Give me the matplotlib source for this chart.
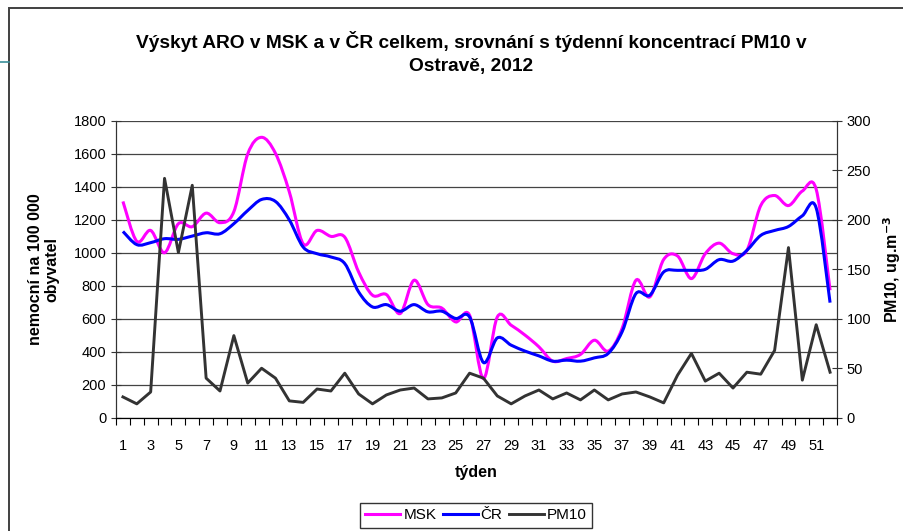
import numpy as np
import matplotlib
matplotlib.use('Agg')
import matplotlib.pyplot as plt
from matplotlib.path import Path
from matplotlib.patches import PathPatch, Rectangle
from matplotlib.lines import Line2D

plt.rcParams['font.family'] = ['Liberation Sans', 'DejaVu Sans']

# weekly data
weeks = np.arange(1, 53)
msk = [1312, 1070, 1136, 1001, 1177, 1159, 1241, 1183, 1250, 1600,
       1701, 1604, 1370, 1055, 1136, 1100, 1095, 884, 743, 747,
       632, 834, 686, 665, 581, 622, 238, 611, 561, 501,
       430, 343, 359, 384, 470, 404, 541, 834, 733, 960,
       981, 844, 995, 1059, 995, 1015, 1287, 1348, 1287, 1375,
       1385, 773]
cr = [1130, 1050, 1062, 1086, 1082, 1102, 1122, 1116, 1177, 1257,
      1324, 1312, 1200, 1035, 995, 975, 935, 763, 672, 686,
      646, 686, 642, 646, 602, 611, 335, 484, 440, 404,
      375, 343, 349, 343, 363, 390, 521, 753, 743, 884,
      894, 894, 900, 959, 950, 1015, 1106, 1136, 1160, 1225,
      1272, 698]
pm10 = [21, 14, 26, 242, 167, 235, 40, 27, 83, 35,
        50, 40, 17, 15.5, 29, 27, 45, 24, 14, 23,
        28, 30, 19, 20, 25, 45, 40, 22, 14, 22,
        28, 19, 25, 18, 28, 18, 24, 26, 21, 15,
        43, 65, 37, 45, 30, 46, 44, 68, 172, 38,
        94, 46]

title = u'Výskyt ARO v MSK a v ČR celkem, srovnání s týdenní koncentrací PM10 v\nOstravě, 2012'


def smooth_path(x, y):
    """Excel-like smoothed line as a bezier path through the data points"""
    n = len(x)
    verts = [(x[0], y[0])]
    codes = [Path.MOVETO]
    for i in range(n - 1):
        xp, yp = (x[i - 1], y[i - 1]) if i > 0 else (x[i], y[i])
        xn, yn = (x[i + 2], y[i + 2]) if i + 2 < n else (x[i + 1], y[i + 1])
        c1 = (x[i] + (x[i + 1] - xp) / 6.0, y[i] + (y[i + 1] - yp) / 6.0)
        c2 = (x[i + 1] - (xn - x[i]) / 6.0, y[i + 1] - (yn - y[i]) / 6.0)
        verts += [c1, c2, (x[i + 1], y[i + 1])]
        codes += [Path.CURVE4] * 3
    return Path(verts, codes)


fig = plt.figure(figsize=(9.04, 5.31), dpi=100)
ax = fig.add_axes([116 / 904, 1 - 417.7 / 531, 721 / 904, 296.7 / 531])
ax2 = ax.twinx()

ax.set_xlim(0.5, 52.5)
ax.set_ylim(0, 1800)
ax2.set_ylim(0, 300)

ax.set_yticks(np.arange(0, 1801, 200))
ax.grid(axis='y', color='#444444', linewidth=0.9)
ax.set_axisbelow(True)
ax2.set_yticks(np.arange(0, 301, 50))

ax.add_patch(PathPatch(smooth_path(weeks, msk), facecolor='none', edgecolor='#ff00ff', lw=2.2))
ax.add_patch(PathPatch(smooth_path(weeks, cr), facecolor='none', edgecolor='#0000ff', lw=2.2))
ax2.plot(weeks, pm10, color='#333333', lw=2.1)

# x axis: ticks between categories, labels on odd weeks
ax.set_xticks(np.arange(0.5, 53, 1))
ax.set_xticklabels([])
ax.set_xticks(weeks[::2], minor=True)
ax.set_xticklabels([str(w) for w in weeks[::2]], minor=True)
ax.tick_params(axis='x', which='major', direction='out', length=5, color='black')
ax.tick_params(axis='x', which='minor', length=0, pad=15, labelsize=10.5)
ax.tick_params(axis='y', direction='inout', length=7, labelsize=10.5, color='#333333')
ax2.tick_params(axis='y', direction='inout', length=7, labelsize=10.5, color='#333333')

for a in (ax, ax2):
    a.spines['top'].set_visible(False)
    a.spines['left'].set_color('#333333')
    a.spines['right'].set_color('#333333')
    a.spines['bottom'].set_color('black')

ax.set_xlabel(u'týden', fontsize=11.5, fontweight='bold', labelpad=9)
ax.set_ylabel(u'nemocní na 100 000\nobyvatel', fontsize=11.5, fontweight='bold', labelpad=10,
              linespacing=1.1)
ax2.set_ylabel(r'PM10, ug.m$^{\mathbf{-3}}$', fontsize=11.5, fontweight='bold', labelpad=7)

fig.text(471 / 904, 1 - 53 / 531, title, ha='center', va='center', fontsize=13.8,
         fontweight='bold', linespacing=1.45)

handles = [Line2D([], [], color='#ff00ff', lw=2.2),
           Line2D([], [], color='#0000ff', lw=2.2),
           Line2D([], [], color='#333333', lw=2.1)]
leg = fig.legend(handles, ['MSK', u'ČR', 'PM10'], loc='upper center',
                 bbox_to_anchor=(476 / 904, 1 - 503 / 531), ncol=3, fontsize=11,
                 frameon=True, fancybox=False, handlelength=2.3, handletextpad=0.2,
                 columnspacing=0.4, borderpad=0.35, borderaxespad=0)
leg.get_frame().set_edgecolor('black')
leg.get_frame().set_linewidth(1.0)

# slide frame around the chart
fig.patches.append(Rectangle((9 / 904, -0.1), 2, 1.1 - 8 / 531, transform=fig.transFigure,
                             fill=False, edgecolor='#404040', lw=1.4))
fig.lines.append(Line2D([0, 9 / 904], [1 - 62 / 531] * 2, transform=fig.transFigure,
                        color='#3a8f9a', lw=1.2))

fig.savefig('out.png', dpi=100)
